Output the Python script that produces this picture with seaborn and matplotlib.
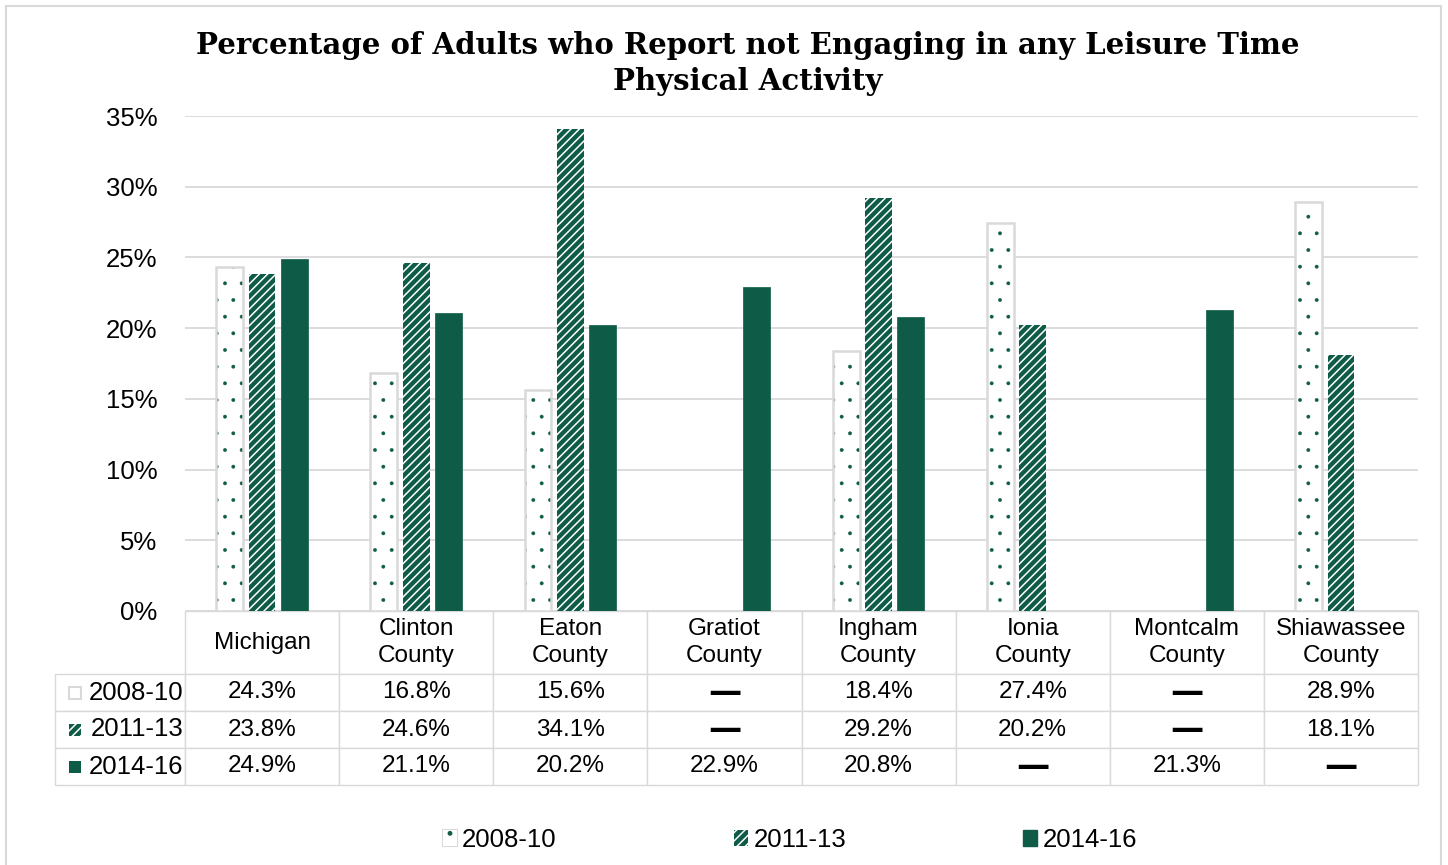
import numpy as np
import pandas as pd
import matplotlib
matplotlib.use("Agg")
import matplotlib.pyplot as plt
import seaborn as sns
from matplotlib.patches import Patch, Rectangle
from matplotlib.table import Table
from matplotlib.ticker import PercentFormatter

# Data
areas = ["Michigan", "Clinton\nCounty", "Eaton\nCounty", "Gratiot\nCounty",
         "Ingham\nCounty", "Ionia\nCounty", "Montcalm\nCounty", "Shiawassee\nCounty"]
periods = ["2008-10", "2011-13", "2014-16"]
v_2008_10 = [24.3, 16.8, 15.6, None, 18.4, 27.4, None, 28.9]
v_2011_13 = [23.8, 24.6, 34.1, None, 29.2, 20.2, None, 18.1]
v_2014_16 = [24.9, 21.1, 20.2, 22.9, 20.8, None, 21.3, None]
series = [v_2008_10, v_2011_13, v_2014_16]

rows = []
for p, vals in zip(periods, series):
    for a, v in zip(areas, vals):
        rows.append({"area": a, "period": p, "value": np.nan if v is None else v})
df = pd.DataFrame(rows)

green = "#0e5c47"
grid_gray = "#d9d9d9"

sns.set_theme(style="white")
plt.rcParams["font.family"] = ["Liberation Sans", "DejaVu Sans"]
plt.rcParams["text.color"] = "black"
plt.rcParams["hatch.linewidth"] = 1.1

W, H = 1448, 865
fig = plt.figure(figsize=(W / 100, H / 100), dpi=100)
ax_l, ax_r, ax_t, ax_b = 185, 1418, 116, 611
ax = fig.add_axes([ax_l / W, 1 - ax_b / H, (ax_r - ax_l) / W, (ax_b - ax_t) / H])

sns.barplot(data=df, x="area", y="value", hue="period", order=areas,
            hue_order=periods, palette=[green] * 3, width=0.63, gap=0.17,
            legend=False, ax=ax)


def dot_hatch(p):
    p.set_facecolor("white")
    p.set_edgecolor(green)
    p.set_hatch(".")
    p.set_linewidth(0)
    if hasattr(p, "set_hatch_linewidth"):
        p.set_hatch_linewidth(0.3)


def stripe_hatch(p):
    p.set_facecolor(green)
    p.set_edgecolor("white")
    p.set_hatch("////")
    p.set_linewidth(0)


c0, c1, c2 = ax.containers[:3]
for bar in c0:
    if np.isnan(bar.get_height()):
        continue
    dot_hatch(bar)
    ax.add_patch(Rectangle((bar.get_x(), 0), bar.get_width(), bar.get_height(),
                           fill=False, edgecolor=grid_gray, lw=1.8, zorder=3))
for bar in c1:
    stripe_hatch(bar)
for bar in c2:
    bar.set_facecolor(green)
    bar.set_edgecolor(green)
    bar.set_linewidth(0.5)

ax.set_ylim(0, 35)
ax.set_yticks(range(0, 36, 5))
ax.yaxis.set_major_formatter(PercentFormatter(decimals=0))
ax.grid(axis="y", color=grid_gray, lw=1.3)
ax.set_axisbelow(True)
ax.tick_params(axis="y", length=0, pad=20, labelsize=18.5, labelcolor="black")
ax.set_xticks([])
ax.set_xlabel("")
ax.set_ylabel("")
ax.set_xlim(-0.5, len(areas) - 0.5)
for s in ax.spines.values():
    s.set_visible(False)

# Data table under the plot
px_w = ax_r - ax_l
px_h = ax_b - ax_t
lab_w, col_w, head_h, row_h = 130, 154, 63, 37
tab_h = head_h + 3 * row_h
tb = Table(ax, bbox=[-lab_w / px_w, -tab_h / px_h, 1 + lab_w / px_w, tab_h / px_h])
for j, a in enumerate(areas):
    tb.add_cell(0, j + 1, col_w, head_h, text=a, loc="center", edgecolor=grid_gray)
dash_cells = []
label_cells = []
for i, (p, vals) in enumerate(zip(periods, series)):
    c = tb.add_cell(i + 1, 0, lab_w, row_h, text=p, loc="right", edgecolor=grid_gray)
    c.PAD = 0.015
    label_cells.append(c)
    for j, v in enumerate(vals):
        txt = "—" if v is None else f"{v:.1f}%"
        cell = tb.add_cell(i + 1, j + 1, col_w, row_h, text=txt, loc="center",
                           edgecolor=grid_gray)
        if v is None:
            dash_cells.append(cell)
tb.auto_set_font_size(False)
tb.set_fontsize(17.5)
for (r, cidx), cell in tb.get_celld().items():
    cell.get_text().set_color("black")
    if r == 0:
        cell.get_text().set_linespacing(1.35)
for cell in label_cells:
    cell.get_text().set_fontsize(18.5)
for cell in dash_cells:
    cell.get_text().set_fontweight("bold")
    cell.get_text().set_fontsize(24)
    cell.get_text().set_family("DejaVu Sans")
ax.add_table(tb)

# legend keys inside the table row labels
key_size = 12
for i in range(3):
    yc = ax_b + head_h + row_h * (i + 0.5)
    x0 = (69 - ax_l) / px_w
    y0 = (ax_b - yc - key_size / 2) / px_h
    w, h = key_size / px_w, key_size / px_h
    key = Rectangle((x0, y0), w, h, transform=ax.transAxes, clip_on=False, zorder=5)
    if i == 0:
        dot_hatch(key)
        ax.add_patch(key)
        ax.add_patch(Rectangle((x0, y0), w, h, transform=ax.transAxes, clip_on=False,
                               fill=False, edgecolor=grid_gray, lw=1.5, zorder=6))
    elif i == 1:
        stripe_hatch(key)
        ax.add_patch(key)
    else:
        key.set_facecolor(green)
        key.set_linewidth(0)
        ax.add_patch(key)

# bottom legend
k0b = Patch()
dot_hatch(k0b)
k0 = (Patch(facecolor="white", edgecolor=grid_gray, lw=1.5), k0b)
k1 = Patch()
stripe_hatch(k1)
k2 = Patch(facecolor=green, edgecolor=green)
fig.legend([k0, k1, k2], periods, loc="center", bbox_to_anchor=(790 / W, 1 - 840 / H),
           ncol=3, frameon=False, fontsize=18.5, handlelength=0.55, handleheight=0.55,
           handletextpad=0.2, columnspacing=6.9)

fig.text(748 / W, 1 - 31 / H,
         "Percentage of Adults who Report not Engaging in any Leisure Time\nPhysical Activity",
         ha="center", va="top", fontsize=21, fontweight="bold", color="black",
         family="DejaVu Serif", linespacing=1.3)

fig.add_artist(Rectangle((6 / W, -0.02), (1441 - 6) / W, 1 - 6 / H + 0.02,
                         transform=fig.transFigure, fill=False,
                         edgecolor=grid_gray, lw=1.5))

fig.savefig("out.png", dpi=100)
